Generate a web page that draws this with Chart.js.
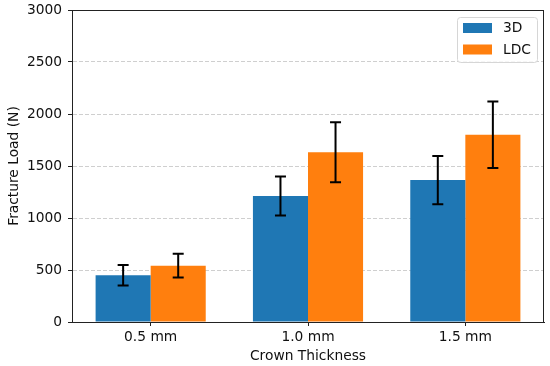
<!DOCTYPE html>
<html>
<head>
<meta charset="utf-8">
<script src="https://cdn.jsdelivr.net/npm/chart.js@4/dist/chart.umd.min.js"></script>
<style>
  html, body { margin: 0; padding: 0; background: #fff; }
  #wrap { width: 550px; height: 366px; }
</style>
</head>
<body>
<div id="wrap"><canvas id="chart" width="550" height="366"></canvas></div>
<script>
// data
const categories = ['0.5 mm', '1.0 mm', '1.5 mm'];
const seriesNames = ['3D', 'LDC'];
const values3D = [450, 1212, 1365];
const valuesLDC = [542, 1632, 1800];
const err3D = [98, 188, 232];
const errLDC = [115, 288, 320];
const yTicks = [0, 500, 1000, 1500, 2000, 2500, 3000];

const FONT = 'DejaVu Sans';
const FS = 13.8;
const TXT = '#111';
const BLUE = '#1f77b4';
const ORANGE = '#ff7f0e';

// error bars + frame + legend drawn on top
const extras = {
    id: 'extras',
    afterDatasetsDraw(chart) {
        const ctx = chart.ctx;
        const y = chart.scales.y;
        const errs = [err3D, errLDC];
        ctx.save();
        ctx.strokeStyle = '#000';
        ctx.lineWidth = 2;
        chart.data.datasets.forEach((ds, i) => {
            const meta = chart.getDatasetMeta(i);
            meta.data.forEach((bar, j) => {
                const v = ds.data[j];
                const e = errs[i][j];
                const top = y.getPixelForValue(v + e);
                const bot = y.getPixelForValue(v - e);
                ctx.beginPath();
                ctx.moveTo(bar.x, top);
                ctx.lineTo(bar.x, bot);
                ctx.moveTo(bar.x - 5.5, top);
                ctx.lineTo(bar.x + 5.5, top);
                ctx.moveTo(bar.x - 5.5, bot);
                ctx.lineTo(bar.x + 5.5, bot);
                ctx.stroke();
            });
        });
        ctx.restore();
    },
    afterDraw(chart) {
        const ctx = chart.ctx;
        const a = chart.chartArea;
        ctx.save();
        // spines
        ctx.strokeStyle = '#222';
        ctx.lineWidth = 1;
        ctx.strokeRect(a.left + 0.5, a.top + 0.5, a.right - a.left - 1, a.bottom - a.top);

        // legend box
        const bx = a.right - 87, by = a.top + 7, bw = 80, bh = 45;
        ctx.fillStyle = 'rgba(255,255,255,0.8)';
        ctx.strokeStyle = '#d6d6d6';
        ctx.beginPath();
        ctx.roundRect(bx + 0.5, by + 0.5, bw, bh, 3);
        ctx.fill();
        ctx.stroke();
        ctx.font = FS + 'px "' + FONT + '"';
        ctx.textBaseline = 'middle';
        ctx.textAlign = 'left';
        chart.data.datasets.forEach((ds, i) => {
            const ry = by + 6 + i * 21.5;
            ctx.fillStyle = ds.backgroundColor;
            ctx.fillRect(bx + 6, ry, 29, 10);
            ctx.fillStyle = TXT;
            ctx.fillText(ds.label, bx + 46, ry + 5.5);
        });
        ctx.restore();
    }
};

new Chart(document.getElementById('chart'), {
    type: 'bar',
    data: {
        labels: categories,
        datasets: [
            { label: seriesNames[0], data: values3D, backgroundColor: BLUE },
            { label: seriesNames[1], data: valuesLDC, backgroundColor: ORANGE }
        ]
    },
    options: {
        responsive: false,
        animation: false,
        devicePixelRatio: 1,
        layout: { padding: { left: 0, right: 6, top: 10, bottom: 0 } },
        datasets: {
            bar: { categoryPercentage: 0.7, barPercentage: 1.0 }
        },
        plugins: {
            legend: { display: false },
            tooltip: { enabled: false }
        },
        scales: {
            x: {
                afterFit(scale) {
                    scale.height = 44;
                    scale.paddingLeft = 0;
                    scale.paddingRight = 0;
                },
                grid: {
                    offset: false,
                    drawOnChartArea: false,
                    color: '#222',
                    tickColor: '#222',
                    tickLength: 4
                },
                border: { color: '#222' },
                ticks: {
                    color: TXT,
                    padding: 3,
                    font: { family: FONT, size: FS }
                },
                title: {
                    display: true,
                    text: 'Crown Thickness',
                    color: TXT,
                    padding: { top: 0, bottom: 1 },
                    font: { family: FONT, size: FS }
                }
            },
            y: {
                min: yTicks[0],
                max: yTicks[yTicks.length - 1],
                afterFit(scale) {
                    scale.width = 72;
                    scale.paddingTop = 0;
                    scale.paddingBottom = 0;
                },
                afterBuildTicks(scale) {
                    scale.ticks = yTicks.map(v => ({ value: v }));
                },
                grid: {
                    color: ctx => (ctx.tick && (ctx.tick.value === 0 || ctx.tick.value === 3000)) ? 'rgba(0,0,0,0)' : '#cfcfcf',
                    tickColor: '#222',
                    tickLength: 4,
                    tickBorderDash: [],
                    lineWidth: 1
                },
                border: { color: '#222', dash: [4, 2] },
                ticks: {
                    color: TXT,
                    padding: 6,
                    font: { family: FONT, size: FS },
                    callback: v => String(v)
                },
                title: {
                    display: true,
                    text: 'Fracture Load (N)',
                    color: TXT,
                    padding: { top: 6, bottom: 0 },
                    font: { family: FONT, size: FS }
                }
            }
        }
    },
    plugins: [extras]
});
</script>
</body>
</html>
